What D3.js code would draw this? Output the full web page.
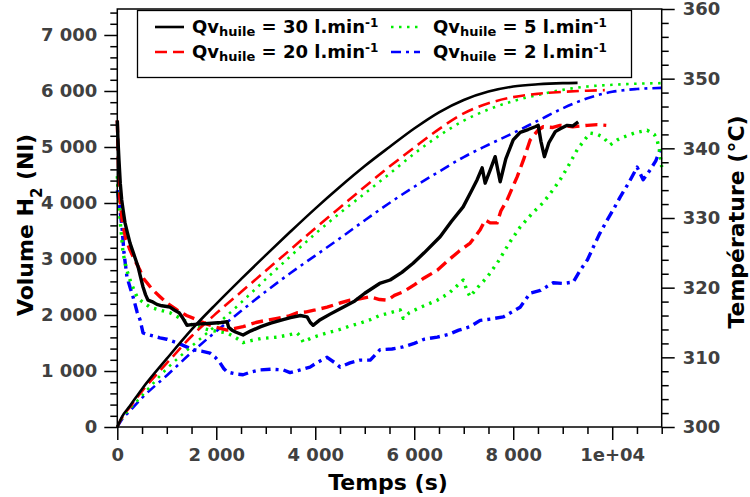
<!DOCTYPE html>
<html><head><meta charset="utf-8">
<script src="https://cdn.jsdelivr.net/npm/d3@7"></script>
<style>
body{margin:0;background:#fff;}
svg{display:block;font-family:"DejaVu Sans",sans-serif;font-weight:bold;}
</style></head><body>
<svg id="c" width="750" height="497"></svg>
<script>
// ---- data (time s, value) ----
const vol30 = [[0,0],[100,190],[250,370],[500,680],[1000,1220],[1500,1740],[2000,2200],[2500,2640],[3000,3070],[3500,3490],[4000,3900],[4500,4290],[5000,4660],[5500,5000],[6000,5330],[6500,5620],[7000,5840],[7500,5990],[8000,6080],[8500,6120],[9000,6140],[9300,6145]];
const vol20 = [[0,0],[100,175],[250,350],[500,640],[1000,1140],[1500,1620],[2000,2030],[2500,2410],[3000,2790],[3500,3170],[4000,3550],[4500,3920],[5000,4290],[5500,4650],[6000,4990],[6500,5320],[7000,5600],[7500,5780],[8000,5890],[8500,5950],[9000,5985],[9500,6005],[9850,6015]];
const vol5 = [[0,0],[100,160],[250,320],[500,560],[1000,1040],[1500,1440],[2000,1820],[2500,2220],[3000,2640],[3500,3050],[4000,3450],[4500,3820],[5000,4170],[5500,4520],[6000,4880],[6500,5200],[7000,5470],[7500,5670],[8000,5820],[8500,5930],[9000,6020],[9500,6080],[10000,6110],[10500,6130],[11000,6140]];
const vol2 = [[0,0],[100,140],[250,280],[500,520],[1000,920],[1500,1330],[2000,1710],[2500,2070],[3000,2420],[3500,2750],[4000,3060],[4500,3370],[5000,3690],[5500,4000],[6000,4290],[6500,4560],[7000,4820],[7500,5040],[8000,5250],[8500,5470],[9000,5690],[9500,5870],[10000,5985],[10500,6035],[11000,6055]];

const temp30 = [[0,344],[15,341],[34,338.3],[60,335],[89,332.6],[120,331],[156,329.3],[200,328],[257,326.4],[300,325.5],[358,324.3],[420,323],[470,321.5],[520,320.1],[570,319],[621,318.2],[700,318],[800,317.6],[900,317.4],[1000,317.3],[1065,317.2],[1150,316.8],[1250,316.4],[1308,315.8],[1350,315.3],[1409,314.6],[1500,314.7],[1700,314.8],[1900,314.9],[2100,315.0],[2218,315.1],[2250,314.3],[2319,313.9],[2400,313.6],[2541,313.2],[2700,313.8],[2900,314.4],[3100,314.9],[3350,315.4],[3500,315.7],[3700,316.0],[3835,315.8],[3900,315.0],[3956,314.6],[4100,315.4],[4300,316.2],[4562,317.2],[4800,318.1],[5000,319.2],[5300,320.6],[5513,321.1],[5750,322.2],[5977,323.5],[6200,325.0],[6523,327.3],[6750,329.5],[6988,331.6],[7150,333.8],[7271,335.5],[7372,337.2],[7433,335.0],[7530,336.8],[7635,338.8],[7736,335.2],[7850,338.5],[8000,341.2],[8141,342.3],[8300,342.7],[8444,343.1],[8505,343.3],[8560,341],[8630,338.8],[8720,340.8],[8850,342.4],[8950,342.8],[9091,343.3],[9200,343.2],[9313,343.8]];
const temp20 = [[0,344],[20,338],[50,333],[100,329.5],[170,327],[257,325.4],[350,324],[459,322.5],[530,321.3],[600,320.7],[700,319.8],[863,318.7],[1000,317.8],[1207,316.8],[1400,316.0],[1611,315.4],[1800,314.8],[2000,314.3],[2218,313.9],[2400,314.2],[2541,314.4],[2800,315.0],[3000,315.3],[3229,315.6],[3450,315.9],[3633,316.4],[3800,316.5],[4000,316.8],[4239,317.2],[4500,317.8],[4704,318.2],[4900,318.4],[5111,318.7],[5300,318.3],[5455,318.2],[5600,318.9],[5778,319.4],[6000,320.4],[6200,321.4],[6465,322.5],[6700,324.0],[6900,325.2],[7130,326.4],[7332,328.3],[7433,329.7],[7534,329.3],[7675,329.3],[7750,331.0],[7877,332.6],[7938,333.6],[8079,335.9],[8205,338.3],[8342,341.2],[8500,342.6],[8605,343.1],[8800,343.0],[8949,343.3],[9200,343.1],[9500,343.3],[9700,343.4],[9880,343.3]];
const temp5 = [[0,336],[20,333],[57,329.7],[116,325],[180,322.8],[257,321.1],[330,319.8],[398,318.7],[500,318.0],[661,317.2],[850,316.8],[1065,316.4],[1300,315.5],[1530,314.6],[1700,314.2],[1874,313.9],[2050,313.7],[2218,313.5],[2400,312.8],[2541,312.1],[2700,312.4],[2900,312.7],[3229,312.9],[3450,313.2],[3633,313.5],[3700,313.0],[3755,312.2],[3900,312.7],[4050,313.1],[4239,313.5],[4500,314.0],[4700,314.5],[4906,314.9],[5111,315.4],[5300,316.0],[5513,316.4],[5717,316.8],[5778,315.6],[5900,316.4],[6100,317.1],[6300,317.7],[6465,318.2],[6700,319.2],[6900,320.5],[6990,321.1],[7070,319.5],[7130,318.7],[7250,319.8],[7473,321.5],[7700,323.8],[7938,326.6],[8140,328.7],[8400,330.8],[8605,332.2],[8800,334.0],[8949,335.5],[9100,337.3],[9293,339.8],[9450,341.3],[9555,342.2],[9700,342.0],[9817,341.6],[9959,340.5],[10100,341.2],[10221,341.6],[10450,342.2],[10705,342.6],[10850,342.0],[10908,341.2],[10960,339.5],[11000,337.3]];
const temp2 = [[0,334],[30,332.6],[57,331],[95,328.7],[135,325],[196,321.5],[260,320],[318,318.7],[400,316.5],[459,315.4],[520,313.5],[600,313.3],[700,313.1],[863,312.8],[1000,312.6],[1207,312.1],[1400,311.5],[1530,311.1],[1700,310.9],[1874,310.6],[1980,310.0],[2076,309.2],[2150,308.4],[2218,307.9],[2400,307.6],[2541,307.5],[2700,307.9],[2885,308.2],[3100,308.3],[3350,308.2],[3491,307.8],[3700,308.2],[3895,308.6],[4050,309.3],[4239,310.0],[4400,309.2],[4502,308.6],[4700,309.2],[4906,309.6],[5111,309.6],[5310,311.1],[5550,311.2],[5778,311.5],[6000,312.0],[6200,312.6],[6465,312.9],[6700,313.3],[6900,313.9],[7130,314.4],[7332,315.3],[7550,315.5],[7797,315.8],[8000,316.6],[8140,317.2],[8342,319.2],[8550,319.6],[8808,320.7],[9000,320.6],[9212,320.8],[9354,322.5],[9500,324.0],[9616,325.8],[9750,327.8],[9898,329.7],[10030,331.3],[10160,333.0],[10330,335.0],[10504,337.3],[10625,335.5],[10766,336.9],[10880,338.2],[10968,339.8]];

const xTicks = [0,2000,4000,6000,8000,10000];
const xTickLabels = ["0","2 000","4 000","6 000","8 000","1e+04"];
const yTicks = [0,1000,2000,3000,4000,5000,6000,7000];
const yTickLabels = ["0","1 000","2 000","3 000","4 000","5 000","6 000","7 000"];
const y2Ticks = [300,310,320,330,340,350,360];
const y2TickLabels = ["300","310","320","330","340","350","360"];
const legendFlows = ["30","20","5","2"];

// ---- layout ----
const L=117.3, R=661.7, T=9, B=427;
const svg=d3.select("#c");
const x=d3.scaleLinear().domain([0,11000]).range([L,R]);
const y=d3.scaleLinear().domain([0,7464]).range([B,T]);
const y2=d3.scaleLinear().domain([300,360]).range([B,T]);

const styles=[
 {c:"#000000",d:null},
 {c:"#ff0000",d:"12,6"},
 {c:"#00ee00",d:"2.5,5.5"},
 {c:"#0000ff",d:"10,5,3,5"}
];
const vols=[vol30,vol20,vol5,vol2];
const temps=[temp30,temp20,temp5,temp2];

const g=svg.append("g");
const lv=d3.line().x(d=>x(d[0])).y(d=>y(d[1])).curve(d3.curveMonotoneX);
const lt=d3.line().x(d=>x(d[0])).y(d=>y2(d[1])).curve(d3.curveLinear);
for(let i=3;i>=0;i--){
  g.append("path").attr("d",lt(temps[i])).attr("fill","none").attr("stroke",styles[i].c)
   .attr("stroke-width",3.4).attr("stroke-dasharray",styles[i].d).attr("stroke-linejoin","round");
  g.append("path").attr("d",lv(vols[i])).attr("fill","none").attr("stroke",styles[i].c)
   .attr("stroke-width",2.6).attr("stroke-dasharray",styles[i].d);
}

// ---- axes ----
const tc="#404040";
function styleAxis(sel){
  sel.select(".domain").remove();
  sel.selectAll(".tick line").attr("stroke","#000").attr("stroke-width",1.5);
  sel.selectAll(".tick text").attr("fill",tc).style("font-size","18px").style("font-weight","bold").style("font-family","DejaVu Sans");
}
function minor(axisGen,vals,gx){
  svg.append("g").attr("transform",gx).call(axisGen.tickValues(vals).tickSize(7).tickFormat(""))
   .call(s=>{s.select(".domain").remove();s.selectAll(".tick line").attr("stroke","#000").attr("stroke-width",1.5);});
}
minor(d3.axisLeft(y), d3.range(0,7401,200).filter(v=>v%1000), `translate(${L},0)`);
minor(d3.axisRight(y2), d3.range(300,361,2).filter(v=>v%10), `translate(${R},0)`);
minor(d3.axisBottom(x), d3.range(0,11001,500).filter(v=>v%2000), `translate(0,${B})`);

svg.append("g").attr("transform",`translate(${L},0)`)
 .call(d3.axisLeft(y).tickValues(yTicks).tickSize(13).tickPadding(7).tickFormat((d,i)=>yTickLabels[i])).call(styleAxis);
svg.append("g").attr("transform",`translate(${R},0)`)
 .call(d3.axisRight(y2).tickValues(y2Ticks).tickSize(13).tickPadding(8).tickFormat((d,i)=>y2TickLabels[i])).call(styleAxis);
svg.append("g").attr("transform",`translate(0,${B})`)
 .call(d3.axisBottom(x).tickValues(xTicks).tickSize(13).tickPadding(8).tickFormat((d,i)=>xTickLabels[i])).call(styleAxis);

// frame
svg.append("rect").attr("x",L).attr("y",T).attr("width",R-L).attr("height",B-T)
 .attr("fill","none").attr("stroke","#000").attr("stroke-width",1.5);

// titles
svg.append("text").attr("x",388).attr("y",490).attr("text-anchor","middle")
 .style("font-size","22px").text("Temps (s)");
const yt=svg.append("text").attr("transform","translate(33,225) rotate(-90)").attr("text-anchor","middle")
 .style("font-size","22px");
yt.append("tspan").text("Volume H");
yt.append("tspan").attr("baseline-shift","sub").style("font-size","15px").text("2");
yt.append("tspan").text(" (Nl)");
svg.append("text").attr("transform","translate(744,222) rotate(-90)").attr("text-anchor","middle")
 .style("font-size","22px").text("Température (°C)");

// legend
const lg=svg.append("g");
lg.append("rect").attr("x",137.5).attr("y",10.5).attr("width",494).attr("height",67)
 .attr("fill","#fff").attr("stroke","#000").attr("stroke-width",1.3);
const pos=[[155,192,33],[155,192,58],[391,433,33],[391,433,58]];
[0,1,2,3].forEach(i=>{
  const p=pos[i];
  lg.append("line").attr("x1",p[0]).attr("x2",p[0]+29).attr("y1",p[2]-6).attr("y2",p[2]-6)
    .attr("stroke",styles[i].c).attr("stroke-width",2.6).attr("stroke-dasharray",styles[i].d);
  const t=lg.append("text").attr("x",p[1]).attr("y",p[2]).style("font-size","18px");
  t.append("tspan").text("Qv");
  t.append("tspan").attr("baseline-shift","-3").style("font-size","13px").text("huile");
  t.append("tspan").text(" = "+legendFlows[i]+" l.min");
  t.append("tspan").attr("baseline-shift","6").style("font-size","12px").text("-1");
});
</script>
</body></html>
